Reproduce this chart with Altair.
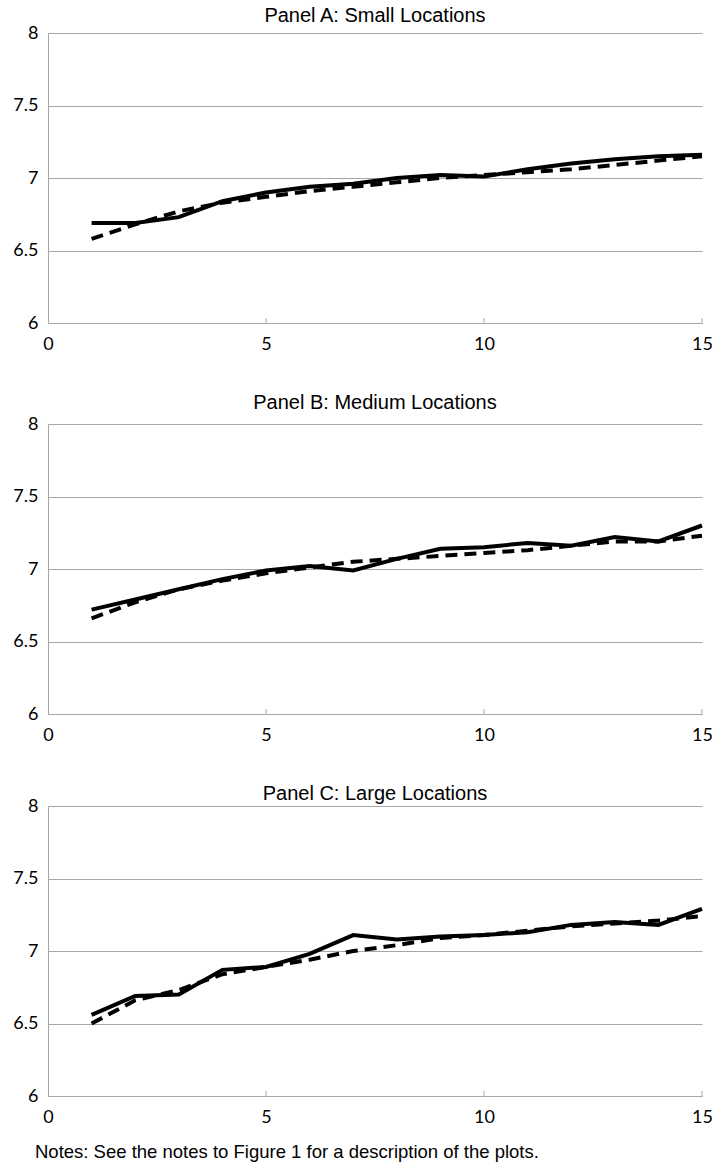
import altair as alt
import pandas as pd

# ---- data ----
x_vals = list(range(1, 16))
a_solid = [6.69, 6.69, 6.73, 6.84, 6.90, 6.94, 6.96, 7.00, 7.02, 7.01, 7.06, 7.10, 7.13, 7.15, 7.16]
a_dash = [6.58, 6.68, 6.77, 6.83, 6.87, 6.91, 6.94, 6.97, 7.00, 7.02, 7.04, 7.06, 7.09, 7.12, 7.15]
b_solid = [6.72, 6.79, 6.86, 6.93, 6.99, 7.02, 6.99, 7.07, 7.14, 7.15, 7.18, 7.16, 7.22, 7.19, 7.30]
b_dash = [6.66, 6.77, 6.86, 6.92, 6.97, 7.01, 7.05, 7.07, 7.09, 7.11, 7.13, 7.16, 7.19, 7.19, 7.23]
c_solid = [6.56, 6.69, 6.70, 6.87, 6.89, 6.98, 7.11, 7.08, 7.10, 7.11, 7.13, 7.18, 7.20, 7.18, 7.29]
c_dash = [6.50, 6.66, 6.73, 6.84, 6.89, 6.94, 7.00, 7.04, 7.09, 7.11, 7.14, 7.17, 7.19, 7.21, 7.24]

panel_titles = ["Panel A: Small Locations", "Panel B: Medium Locations", "Panel C: Large Locations"]
x_ticks = [0, 5, 10, 15]
y_ticks = [6, 6.5, 7, 7.5, 8]
inner_ticks = [5, 10, 15]
notes = "Notes: See the notes to Figure 1 for a description of the plots."

W = 654
H = 290
GRID = "#a6a6a6"
LABEL_FONT = "Lato"
TITLE_FONT = "Liberation Sans"

tick_df = pd.DataFrame({"x": inner_ticks})


def panel(title, solid, dash, title_y, with_notes=False):
    df = pd.DataFrame({"x": x_vals, "solid": solid, "dash": dash})
    xs = alt.Scale(domain=[0, 15], nice=False)
    ys = alt.Scale(domain=[6, 8], nice=False)
    xax = alt.Axis(values=x_ticks, grid=False, ticks=False, domainColor=GRID,
                   labelFont=LABEL_FONT, labelFontSize=18, labelColor="#000000",
                   labelPadding=12, title=None, labelFlush=False)
    yax = alt.Axis(values=y_ticks, grid=True, gridColor=GRID, ticks=False,
                   domainColor=GRID, format="~g", labelFont=LABEL_FONT,
                   labelFontSize=18, labelColor="#000000", labelPadding=10,
                   minExtent=48, maxExtent=48, title=None)
    base = alt.Chart(df)
    solid_line = base.mark_line(color="black", strokeWidth=4).encode(
        x=alt.X("x:Q", scale=xs, axis=xax),
        y=alt.Y("solid:Q", scale=ys, axis=yax),
    )
    dash_line = base.mark_line(color="black", strokeWidth=4, strokeDash=[12, 7]).encode(
        x=alt.X("x:Q", scale=xs),
        y=alt.Y("dash:Q", scale=ys),
    )
    ticks = alt.Chart(tick_df).mark_rule(color=GRID, strokeWidth=1).encode(
        x=alt.X("x:Q", scale=xs),
        y=alt.value(H - 5),
        y2=alt.value(H),
    )
    ttl = alt.Chart(pd.DataFrame({"t": [title]})).mark_text(
        font=TITLE_FONT, fontSize=20, align="center", baseline="alphabetic", color="#000000"
    ).encode(x=alt.value(W / 2), y=alt.value(title_y), text="t:N")
    layers = [ticks, solid_line, dash_line, ttl]
    if with_notes:
        note = alt.Chart(pd.DataFrame({"t": [notes]})).mark_text(
            font=TITLE_FONT, fontSize=18.5, align="left", baseline="alphabetic", color="#000000"
        ).encode(x=alt.value(-13), y=alt.value(352), text="t:N")
        layers.append(note)
    return alt.layer(*layers).properties(width=W, height=H)


chart = alt.vconcat(
    panel(panel_titles[0], a_solid, a_dash, -11),
    panel(panel_titles[1], b_solid, b_dash, -15),
    panel(panel_titles[2], c_solid, c_dash, -6, with_notes=True),
    spacing=40,
).properties(
    padding={"left": 0, "top": 6, "right": 4, "bottom": 0},
    background="white",
).configure_view(stroke=None)

chart.save("out.html", embed_options={"renderer": "svg", "actions": False})
